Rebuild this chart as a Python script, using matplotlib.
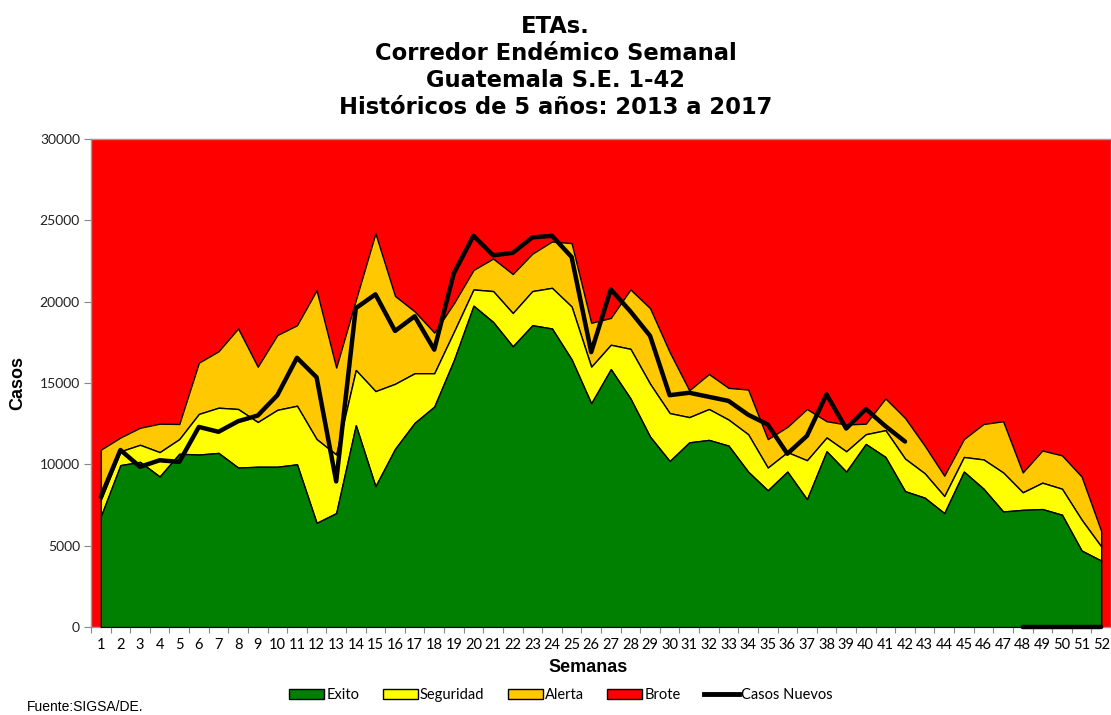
import numpy as np
import matplotlib
matplotlib.use("Agg")
import matplotlib.pyplot as plt
from matplotlib.patches import Patch
from matplotlib.lines import Line2D

semanas = list(range(1, 53))

# Cumulative boundaries of the endemic channel
exito = [6800, 9950, 10150, 9250, 10650, 10600, 10700, 9800, 9850, 9850,
         10000, 6400, 7000, 12400, 8650, 10950, 12550, 13550, 16400, 19750,
         18750, 17250, 18550, 18350, 16450, 13750, 15850, 14050, 11700, 10200,
         11350, 11500, 11150, 9550, 8400, 9550, 7850, 10800, 9550, 11250,
         10450, 8350, 7950, 7000, 9550, 8500, 7100, 7200, 7250, 6900,
         4700, 4080]
seguridad = [7800, 10800, 11200, 10750, 11550, 13100, 13480, 13400, 12600, 13350,
             13600, 11550, 10600, 15800, 14500, 14950, 15600, 15600, 18150, 20750,
             20650, 19300, 20650, 20850, 19700, 16000, 17350, 17100, 14950, 13150,
             12900, 13400, 12750, 11850, 9800, 10750, 10250, 11650, 10800, 11850,
             12100, 10350, 9450, 8050, 10450, 10300, 9500, 8280, 8870, 8500,
             6600, 4950]
alerta = [10900, 11650, 12250, 12500, 12480, 16250, 16950, 18350, 16000, 17950,
          18550, 20700, 15950, 20100, 24200, 20350, 19400, 18100, 19900, 21950,
          22650, 21700, 22950, 23700, 23600, 18700, 19000, 20750, 19600, 16900,
          14550, 15550, 14700, 14600, 11550, 12300, 13400, 12650, 12450, 12500,
          14050, 12850, 11150, 9300, 11550, 12480, 12650, 9500, 10850, 10550,
          9250, 5900]
casos_nuevos = [8000, 10880, 9850, 10250, 10150, 12300, 12000, 12650, 13000, 14250,
                16550, 15350, 8950, 19600, 20450, 18200, 19100, 17050, 21750, 24050,
                22850, 23000, 23950, 24050, 22750, 16900, 20750, 19400, 17900, 14250,
                14400, 14150, 13900, 13050, 12450, 10650, 11750, 14300, 12200, 13400,
                12350, 11400, np.nan, np.nan, np.nan, np.nan, np.nan, 0, 0, 0,
                0, 0]
tope = 30000

titulo = ["ETAs.", "Corredor Endémico Semanal", "Guatemala S.E. 1-42",
          "Históricos de 5 años: 2013 a 2017"]
series_labels = ["Exito", "Seguridad", "Alerta", "Brote", "Casos Nuevos"]
colores = ["#008000", "#FFFF00", "#FFC800", "#FF0000", "#000000"]

fig = plt.figure(figsize=(11.11, 7.15), dpi=100)
ax = fig.add_axes([91/1111, (715-627)/715, (1111-91)/1111, 488/715])
ax.set_facecolor(colores[3])

x = np.array(semanas)
ex = np.array(exito); se = np.array(seguridad); al = np.array(alerta)
ax.fill_between(x, se, al, facecolor=colores[2], edgecolor="black", linewidth=1, zorder=2)
ax.fill_between(x, ex, se, facecolor=colores[1], edgecolor="black", linewidth=1, zorder=3)
ax.fill_between(x, 0, ex, facecolor=colores[0], edgecolor="black", linewidth=1, zorder=4)
ax.plot(x, casos_nuevos, color="black", linewidth=3.2, zorder=6, solid_capstyle="round",
        clip_on=False)

ax.set_xlim(0.5, 52.5)
ax.set_ylim(0, tope)
ax.set_yticks(range(0, tope + 1, 5000))
ax.set_xticks(np.arange(0.5, 53, 1))
ax.set_xticklabels([])
ax.set_xticks(x, minor=True)
ax.set_xticklabels([str(s) for s in semanas], minor=True, fontfamily="Lato", fontsize=10.5)
ax.tick_params(axis="x", which="major", length=4, color="#888888", direction="out")
ax.tick_params(axis="x", which="minor", length=0, pad=8)
ax.tick_params(axis="y", length=5, color="#888888", labelsize=10, pad=3)
for lbl in ax.get_yticklabels():
    lbl.set_fontfamily("Lato")
    lbl.set_color("#222222")
for sp in ax.spines.values():
    sp.set_color("#999999")
    sp.set_linewidth(1)

for i, linea in enumerate(titulo):
    fig.text(0.5, 1 - (33 + 27 * i)/715, linea, ha="center", va="baseline",
             fontsize=16.3, fontweight="bold", fontfamily="DejaVu Sans")
fig.text(588/1111, 1 - 668/715, "Semanas", ha="center", va="center", fontsize=13,
         fontweight="bold", fontfamily="Liberation Sans")
fig.text(18/1111, 1 - 383/715, "Casos", ha="center", va="center", rotation=90, fontsize=13,
         fontweight="bold", fontfamily="Liberation Sans")
fig.text(27/1111, 1 - 707/715, "Fuente:SIGSA/DE.", ha="left", va="center", fontsize=10,
         fontfamily="Liberation Sans")

handles = [Patch(facecolor=colores[i], edgecolor="black", linewidth=1) for i in range(4)]
handles.append(Line2D([0], [0], color="black", linewidth=3.5))
fig.legend(handles, series_labels, loc="center", bbox_to_anchor=(561/1111, 1 - 695/715),
           ncol=5, frameon=False, prop={"family": "Lato", "size": 10.5},
           handlelength=2.4, handleheight=0.7, handletextpad=0.15, columnspacing=1.6)

fig.savefig("out.png", dpi=100)
